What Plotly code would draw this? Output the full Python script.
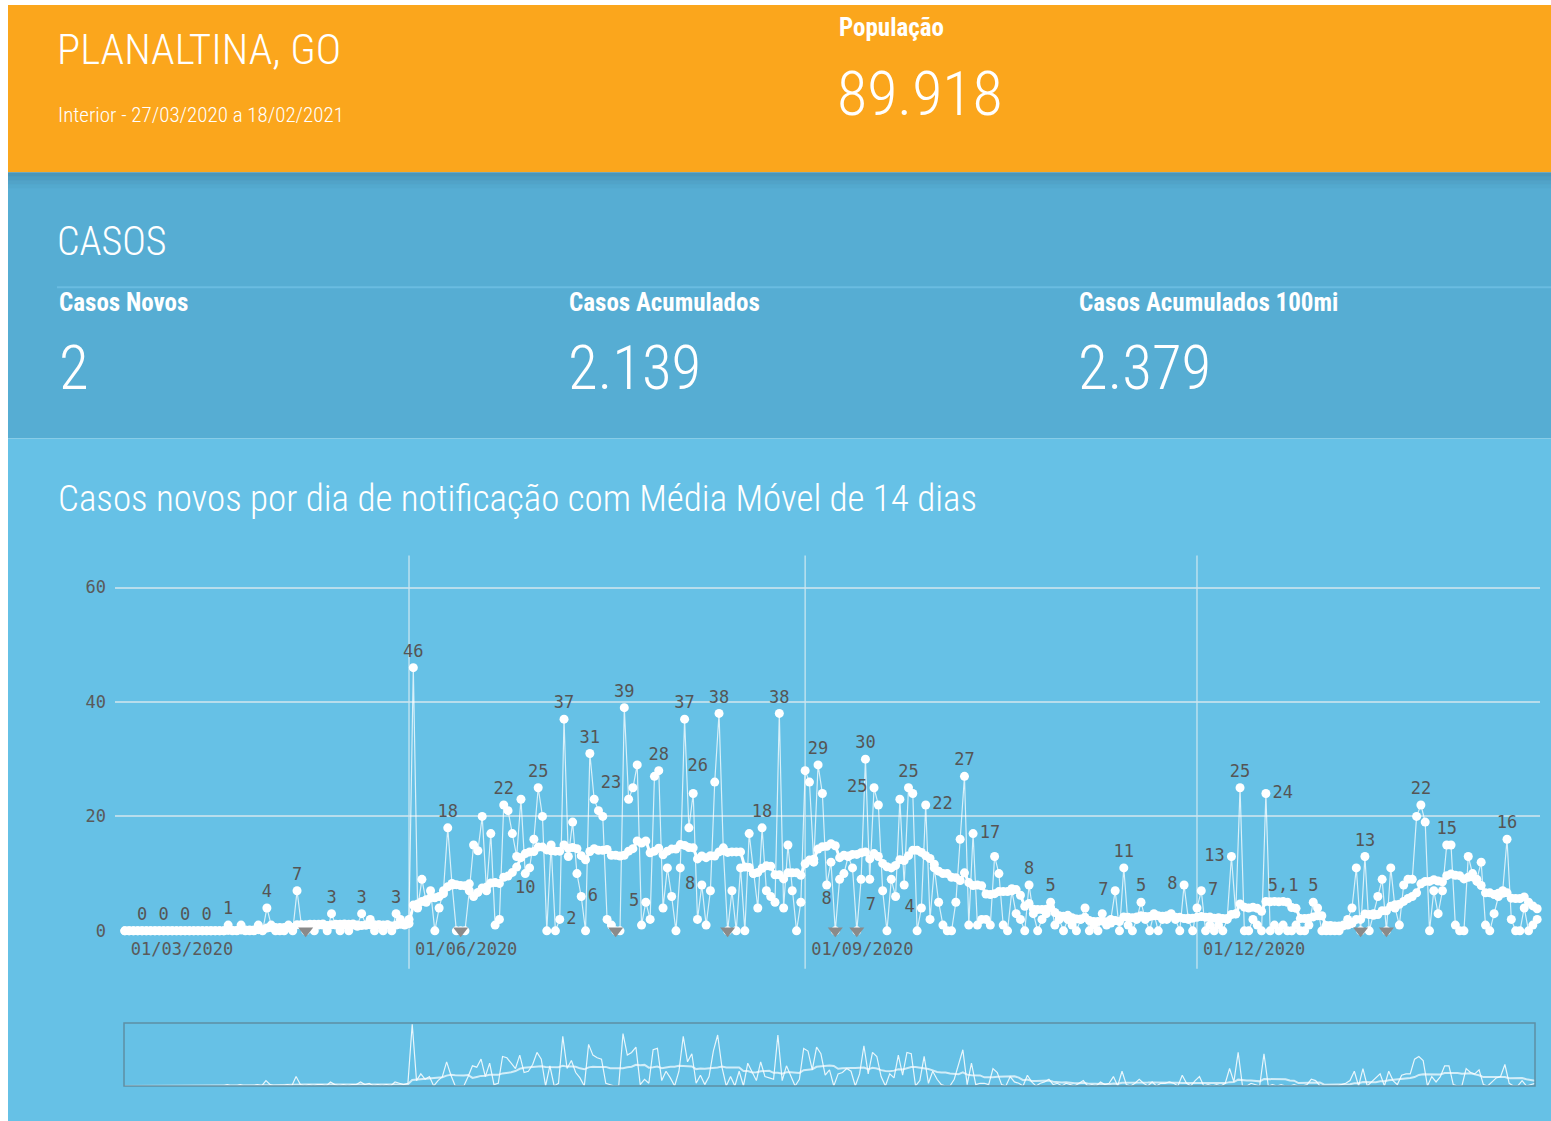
import pandas as pd
import plotly.graph_objects as go

W = 1551
REF_H = 1121   # coordinate system of the picture
FIG_H = 1132   # the page viewport is slightly taller than the picture and gets squeezed into it

# ---------------- data ----------------
start_date = "2020-03-27"
daily_cases = (
    # Mar 27-31
    [0, 0, 0, 0, 0]
    # April
    + [0, 0, 0, 0, 0, 0, 0, 0, 0, 0, 0, 0, 0, 0, 0, 0, 0, 0, 0, 1, 0, 0, 1, 0, 0, 0, 1, 0, 4, 1]
    # May
    + [0, 0, 0, 1, 0, 7, 1, 0, 1, 0, 1, 1, 0, 3, 1, 0, 1, 0, 1, 1, 3, 1, 2, 0, 1, 0, 1, 0, 3, 2, 1]
    # June
    + [2, 46, 4, 9, 5, 7, 0, 4, 7, 18, 8, 0, 0, 0, 7, 15, 14, 20, 7, 17, 1, 2, 22, 21, 17, 13, 23, 10, 11, 16]
    # July
    + [25, 20, 0, 15, 0, 2, 37, 13, 19, 10, 6, 0, 31, 23, 21, 20, 2, 1, 0, 0, 39, 23, 25, 29, 1, 5, 2, 27, 28, 4, 11]
    # August
    + [6, 0, 11, 37, 18, 24, 2, 8, 1, 7, 26, 38, 14, 0, 7, 0, 11, 0, 17, 10, 4, 18, 7, 6, 5, 38, 4, 15, 7, 0, 5]
    # September
    + [28, 26, 12, 29, 24, 8, 12, 0, 9, 10, 13, 11, 0, 9, 30, 9, 25, 22, 7, 0, 9, 6, 23, 8, 25, 24, 0, 4, 22, 2]
    # October
    + [11, 5, 1, 0, 0, 5, 16, 27, 1, 17, 1, 2, 2, 1, 13, 10, 1, 0, 7, 3, 2, 0, 8, 3, 0, 2, 3, 5, 1, 2, 0]
    # November
    + [2, 1, 0, 2, 4, 0, 1, 0, 3, 1, 2, 7, 0, 11, 1, 0, 2, 5, 2, 0, 3, 0, 2, 2, 3, 2, 0, 8, 2, 0]
    # December
    + [4, 7, 0, 1, 0, 1, 0, 2, 13, 3, 25, 0, 0, 2, 1, 0, 24, 0, 1, 0, 1, 0, 0, 1, 0, 0, 1, 5, 4, 0, 0]
    # January
    + [0, 0, 0, 1, 2, 4, 11, 0, 13, 0, 3, 6, 9, 0, 11, 4, 1, 8, 9, 9, 20, 22, 19, 0, 7, 3, 7, 15, 15, 1, 0]
    # February 1-18
    + [0, 13, 10, 9, 12, 1, 0, 3, 6, 7, 16, 2, 0, 0, 4, 0, 1, 2]
)

# 14-day moving average (Média Móvel de 14 dias), one value per day
moving_avg_14d = (
    # Mar 27-31
    [0, 0, 0, 0, 0]
    # April
    + [0, 0, 0, 0, 0, 0, 0, 0, 0, 0, 0, 0, 0, 0, 0, 0, 0, 0, 0, 0.07, 0.07, 0.07, 0.14, 0.14, 0.14, 0.14,
       0.21, 0.21, 0.5, 0.57]
    # May
    + [0.57, 0.57, 0.57, 0.57, 0.57, 1.07, 1.07, 1.07, 1.14, 1.14, 1.14, 1.21, 0.93, 1.07, 1.14, 1.14, 1.21,
       1.14, 1.21, 0.79, 0.93, 1, 1.07, 1.07, 1.07, 1, 1.07, 0.86, 1, 1.14, 1.14]
    # June
    + [1.29, 4.5, 4.71, 5.14, 5.43, 5.79, 5.79, 6, 6.5, 7.71, 8.29, 8.07, 7.93, 7.86, 8.21, 6.0, 6.71, 7.5,
       7.64, 8.36, 8.43, 8.29, 9.36, 9.57, 10.21, 11.14, 12.79, 13.5, 13.79, 13.86]
    # July
    + [14.64, 14.64, 14.14, 14.0, 13.93, 13.93, 15.0, 14.43, 14.57, 14.36, 13.14, 12.43, 13.86, 14.36, 14.07,
       14.07, 14.21, 13.21, 13.21, 13.07, 13.21, 13.93, 14.36, 15.71, 15.36, 15.71, 13.64, 13.93, 14.43, 13.29,
       13.93]
    # August
    + [14.29, 14.29, 15.07, 14.93, 14.57, 14.5, 12.57, 13.07, 12.79, 13.14, 13.07, 13.79, 14.5, 13.71, 13.79,
       13.79, 13.79, 11.14, 11.07, 10.07, 10.21, 10.93, 11.36, 11.29, 9.79, 9.79, 9.07, 10.14, 10.14, 10.14,
       9.71]
    # September
    + [11.71, 12.36, 12.5, 14.29, 14.71, 14.79, 15.21, 14.86, 12.79, 13.21, 13.07, 13.36, 13.36, 13.64, 13.79,
       12.57, 13.5, 13, 11.79, 11.21, 11, 11.43, 12.43, 12.29, 13.14, 14.07, 14.07, 13.71, 13.14, 12.64]
    # October
    + [11.64, 10.43, 10, 10, 9.36, 9.29, 8.79, 10.14, 8.43, 7.93, 8, 7.86, 6.43, 6.36, 6.5, 6.86, 6.86, 6.86,
       7.36, 7.21, 6.21, 4.29, 4.79, 3.79, 3.71, 3.71, 3.79, 4.07, 3.21, 2.64, 2.57]
    # November
    + [2.71, 2.29, 2.07, 2.07, 2.36, 1.79, 1.64, 1.64, 1.71, 1.57, 1.36, 1.79, 1.64, 2.43, 2.36, 2.29, 2.43,
       2.64, 2.5, 2.5, 2.64, 2.64, 2.57, 2.64, 2.71, 2.36, 2.36, 2.14, 2.21, 2.21]
    # December
    + [2.36, 2.5, 2.36, 2.43, 2.21, 2.29, 2.14, 2.14, 2.86, 2.93, 4.71, 4.14, 4, 4.14, 3.93, 3.43, 5.14, 5.07,
       5.14, 5.07, 5.14, 5, 4.07, 3.93, 2.14, 2.14, 2.21, 2.43, 2.64, 2.64, 0.93]
    # January
    + [0.93, 0.86, 0.86, 0.86, 1, 1.29, 2, 2, 2.93, 2.86, 2.71, 2.86, 3.5, 3.5, 4.29, 4.57, 4.64, 5.14, 5.64,
       6, 6.64, 8.21, 8.64, 8.64, 8.93, 8.71, 8.57, 9.64, 9.93, 9.71, 9.64]
    # February 1-18
    + [9.07, 9.36, 9.43, 8.64, 7.93, 6.64, 6.64, 6.36, 6.57, 6.57, 6.64, 5.71, 5.64, 5.64, 5.93, 5, 4.36, 3.86]
)

# days with negative notifications (drawn as grey markers on the base line)
negative_dates = ["2020-05-08", "2020-06-13", "2020-07-19", "2020-08-14",
                  "2020-09-08", "2020-09-13", "2021-01-08", "2021-01-14"]

tick_dates = ["2020-03-27", "2020-06-01", "2020-09-01", "2020-12-01"]
tick_text = ["01/03/2020", "01/06/2020", "01/09/2020", "01/12/2020"]
y_ticks = [0, 20, 40, 60]

dates = pd.date_range(start_date, periods=len(daily_cases), freq="D")

# ---------------- label placement (day index -> text position) ----------------
label_pos = {
    4: "top center", 9: "top center", 14: "top center", 19: "top center",
    24: "top center", 33: "top center", 40: "top center", 48: "top center",
    55: "top center", 63: "top center", 67: "top center", 75: "top center",
    88: "top center", 93: "bottom center", 96: "top center", 101: "middle right",
    102: "top center", 106: "middle right", 108: "top center", 109: "top right",
    116: "top center", 121: "middle left", 124: "top center", 130: "top center",
    134: "middle left", 137: "top left", 138: "top center", 148: "top center",
    152: "top center", 161: "top center", 163: "bottom center", 172: "top center",
    174: "middle left", 176: "bottom left", 182: "top center", 185: "middle left",
    186: "middle right", 195: "top center", 197: "middle right", 210: "top center",
    215: "top center", 230: "middle left", 232: "top center", 236: "top center",
    246: "middle left", 250: "middle right", 257: "middle left", 259: "top center",
    265: "middle right", 276: "top center", 288: "top center", 301: "top center",
    307: "top center", 321: "top center",
}
ma_label_pos = {269: "top center"}

texts = [str(v) if i in label_pos else "" for i, v in enumerate(daily_cases)]
positions = [label_pos.get(i, "top center") for i in range(len(daily_cases))]
ma_texts = [(f"{v:.1f}".replace(".", ",") if i in ma_label_pos else "")
            for i, v in enumerate(moving_avg_14d)]


def px(x):
    return x / W


def py(y):
    return 1 - y / REF_H


MONO = "DejaVu Sans Mono, monospace"
COND = "Roboto Condensed, Liberation Sans Narrow, DejaVu Sans Condensed, sans-serif"

t0 = pd.Timestamp(start_date)
xr_main = [t0 - pd.Timedelta(days=2.28), t0 + pd.Timedelta(days=328.66)]
xr_nav = [t0, t0 + pd.Timedelta(days=len(daily_cases) - 1)]

fig = go.Figure()

fig.add_trace(go.Scatter(
    x=dates, y=daily_cases, mode="lines+markers+text",
    line=dict(color="rgba(255,255,255,0.75)", width=1.2),
    marker=dict(color="white", size=9),
    text=texts, textposition=positions,
    textfont=dict(family=MONO, size=17, color="#555555"),
    cliponaxis=False, showlegend=False,
))
fig.add_trace(go.Scatter(
    x=dates, y=moving_avg_14d, mode="lines+markers+text",
    line=dict(color="white", width=3),
    marker=dict(color="white", size=9),
    text=ma_texts, textposition="top center",
    textfont=dict(family=MONO, size=17, color="#555555"),
    cliponaxis=False, showlegend=False,
))
fig.add_trace(go.Scatter(
    x=pd.to_datetime(negative_dates), y=[0] * len(negative_dates), mode="markers",
    marker=dict(symbol="triangle-down", size=13, color="#8a8a8a"),
    cliponaxis=False, showlegend=False,
))

# navigator (overview strip)
fig.add_trace(go.Scatter(
    x=dates, y=daily_cases, mode="lines", xaxis="x2", yaxis="y2",
    line=dict(color="rgba(255,255,255,0.85)", width=1.2), showlegend=False,
))
fig.add_trace(go.Scatter(
    x=dates, y=moving_avg_14d, mode="lines", xaxis="x2", yaxis="y2",
    line=dict(color="rgba(255,255,255,0.7)", width=2), showlegend=False,
))

shapes = [
    dict(type="rect", xref="paper", yref="paper", x0=px(8), x1=1, y0=py(172), y1=py(5),
         fillcolor="#FBA61C", line=dict(width=0), layer="below"),
    dict(type="rect", xref="paper", yref="paper", x0=px(8), x1=1, y0=py(438), y1=py(172),
         fillcolor="#56ADD3", line=dict(width=0), layer="below"),
    dict(type="rect", xref="paper", yref="paper", x0=px(8), x1=1, y0=0, y1=py(438),
         fillcolor="#66C1E6", line=dict(width=0), layer="below"),
]
for k, a in enumerate([0.22, 0.15, 0.09, 0.04]):
    shapes.append(dict(type="rect", xref="paper", yref="paper", x0=px(8), x1=1,
                       y0=py(172 + 4 * (k + 1)), y1=py(172 + 4 * k),
                       fillcolor=f"rgba(30,70,90,{a})", line=dict(width=0), layer="below"))
shapes.append(dict(type="line", xref="paper", yref="paper", x0=px(57), x1=1, y0=py(287), y1=py(287),
                   line=dict(color="#6ABCE1", width=2), layer="below"))
for d in tick_dates[1:]:
    shapes.append(dict(type="line", xref="x", yref="paper", x0=d, x1=d, y0=py(968), y1=py(555),
                       line=dict(color="rgba(215,235,242,0.75)", width=1.5), layer="below"))
shapes.append(dict(type="rect", xref="paper", yref="paper", x0=px(124), x1=px(1535), y0=py(1085), y1=py(1022),
                   line=dict(color="#5E8EA4", width=1.5), fillcolor="rgba(0,0,0,0)"))

ann = []


def txt(s, x, y, size, weight=300):
    f = dict(family=COND, size=size, color="white", weight=weight)
    ann.append(dict(text=s, xref="paper", yref="paper", x=px(x), y=py(y), xanchor="left",
                    yanchor="middle", showarrow=False, font=f))


txt("PLANALTINA, GO", 55, 49, 43)
txt("Interior - 27/03/2020 a 18/02/2021", 56, 115, 21)
txt("População", 837, 27, 25, weight="bold")
txt("89.918", 835, 93, 62)
txt("CASOS", 55, 241, 40)
txt("Casos Novos", 57, 302, 25, weight="bold")
txt("Casos Acumulados", 567, 302, 25, weight="bold")
txt("Casos Acumulados 100mi", 1077, 302, 25, weight="bold")
txt("2", 57, 368, 61)
txt("2.139", 566, 368, 61)
txt("2.379", 1076, 368, 61)
txt("Casos novos por dia de notificação com Média Móvel de 14 dias", 56, 498, 37)

fig.update_layout(
    width=W, height=FIG_H, margin=dict(l=0, r=0, t=0, b=0),
    paper_bgcolor="white", plot_bgcolor="rgba(0,0,0,0)",
    shapes=shapes, annotations=ann, showlegend=False,
    xaxis=dict(domain=[px(115), px(1540)], range=xr_main, type="date",
               tickvals=pd.to_datetime(tick_dates), ticktext=tick_text,
               ticklabelposition="outside right", ticks="", showgrid=False, zeroline=False,
               showline=False, tickfont=dict(family=MONO, size=17, color="#5a5a5a"),
               ticklabelstandoff=6, ticklabelshift=6),
    yaxis=dict(domain=[py(930), py(555)], range=[0, 65.6], tickvals=y_ticks,
               showgrid=True, gridcolor="rgba(205,228,238,0.8)", gridwidth=1.5,
               zeroline=False, showline=False, ticks="",
               tickfont=dict(family=MONO, size=17, color="#5a5a5a"), ticklabelstandoff=8),
    xaxis2=dict(domain=[px(124), px(1535)], range=xr_nav, type="date", anchor="y2",
                showticklabels=False, showgrid=False, zeroline=False, ticks=""),
    yaxis2=dict(domain=[py(1085), py(1022)], range=[0, 47], anchor="x2",
                showticklabels=False, showgrid=False, zeroline=False, ticks=""),
)

fig.write_html("out.html", config={"displayModeBar": False},
               post_script="document.body.style.margin='0px';"
                           "document.body.style.background='#66C1E6';"
                           "document.documentElement.style.overflow='hidden';")
